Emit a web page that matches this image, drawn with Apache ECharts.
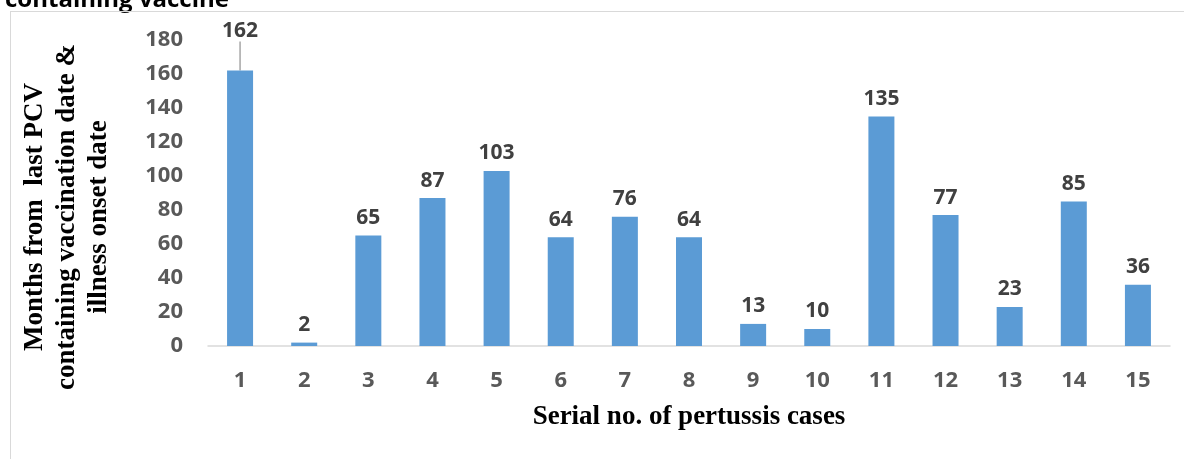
<!DOCTYPE html>
<html>
<head>
<meta charset="utf-8">
<script src="https://cdn.jsdelivr.net/npm/echarts@6/dist/echarts.min.js"></script>
<style>
  html, body { margin: 0; padding: 0; background: #fff; }
  #wrap { position: relative; width: 1184px; height: 459px; overflow: hidden; }
  #frame { position: absolute; left: 10px; top: 11px; width: 1200px; height: 500px;
           border-left: 1px solid #d9d9d9; border-top: 1px solid #d9d9d9; pointer-events: none; }
  #chart { position: absolute; left: 0; top: 0; width: 1184px; height: 459px; }
</style>
</head>
<body>
<div id="wrap">
  <div id="chart"></div>
  <div id="frame"></div>
</div>
<script>
const cases = ['1', '2', '3', '4', '5', '6', '7', '8', '9', '10', '11', '12', '13', '14', '15']
const months = [162, 2, 65, 87, 103, 64, 76, 64, 13, 10, 135, 77, 23, 85, 36]

// only the first bar's label is pulled up with a leader line
const barData = months.map((v, i) => i === 0
  ? { value: v, labelLine: { show: true, lineStyle: { color: '#a6a6a6', width: 1.5 } } }
  : v)

const chart = echarts.init(document.getElementById('chart'), null, { renderer: 'canvas' })
chart.setOption({
  animation: false,
  title: {
    text: 'containing vaccine',
    left: 0,
    top: -17,
    textStyle: { fontFamily: 'Open Sans', fontWeight: 'bold', fontSize: 24, color: '#000' }
  },
  grid: { left: 208, right: 14, top: 40, bottom: 113, outerBoundsMode: 'none' },
  xAxis: {
    type: 'category',
    data: cases,
    axisTick: { show: false },
    axisLine: { lineStyle: { color: '#d9d9d9', width: 1.5 } },
    axisLabel: { margin: 24, color: '#595959', fontFamily: 'Open Sans', fontWeight: 'bold', fontSize: 22 },
    name: 'Serial no. of pertussis cases',
    nameLocation: 'middle',
    nameGap: 58,
    nameTextStyle: { fontFamily: 'Liberation Serif', fontWeight: 'bold', fontSize: 27, color: '#000' }
  },
  yAxis: {
    type: 'value',
    min: 0,
    max: 180,
    interval: 20,
    splitLine: { show: false },
    axisLine: { show: false },
    axisTick: { show: false },
    axisLabel: { margin: 25, color: '#595959', fontFamily: 'Open Sans', fontWeight: 'bold', fontSize: 22 },
    name: 'Months from  last PCV\ncontaining vaccination date &\nillness onset date',
    nameLocation: 'middle',
    nameGap: 93,
    nameTextStyle: {
      fontFamily: 'Liberation Serif', fontWeight: 'bold', fontSize: 27, color: '#000',
      lineHeight: 32, padding: [0, 48, 0, 0]
    }
  },
  series: [{
    type: 'bar',
    data: barData,
    barWidth: 26,
    itemStyle: { color: '#5b9bd5' },
    label: {
      show: true,
      position: 'top',
      distance: 7,
      color: '#404040',
      fontFamily: 'Open Sans',
      fontWeight: 'bold',
      fontSize: 21
    },
    labelLayout: function (params) {
      if (params.dataIndex === 0) return { dy: -22 }
      return {}
    }
  }]
})
</script>
</body>
</html>
